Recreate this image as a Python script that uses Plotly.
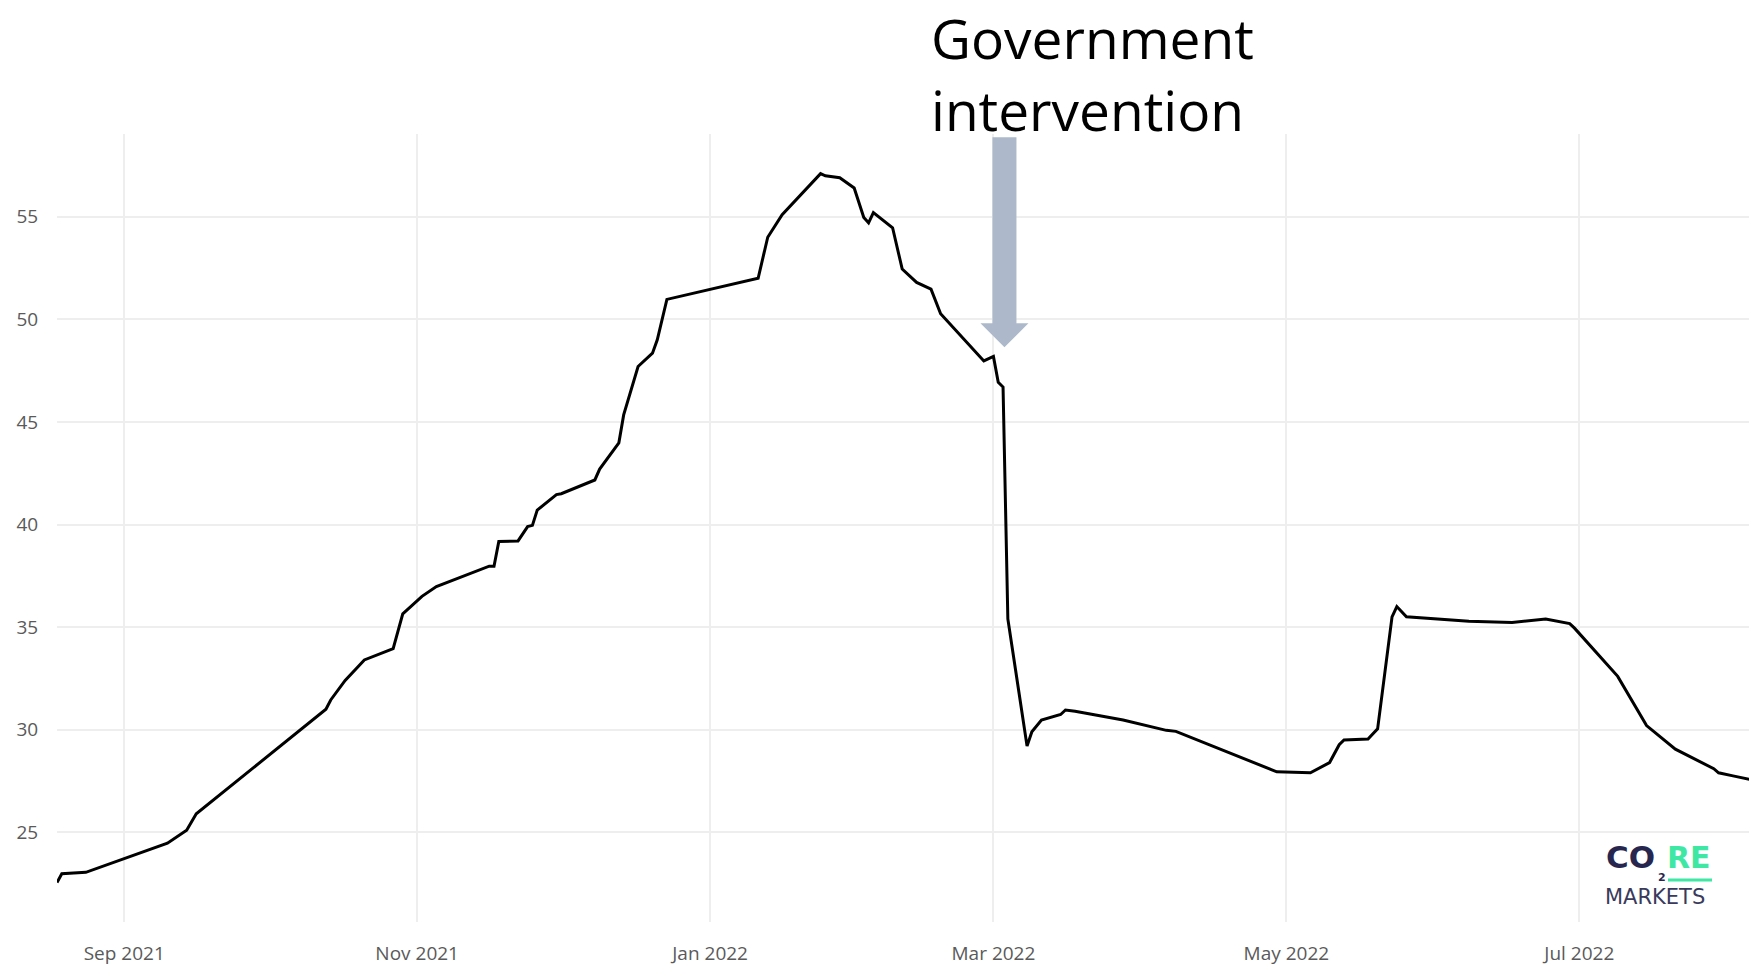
import plotly.graph_objects as go

# ---- data ----
dates = [
    "2021-08-18", "2021-08-19", "2021-08-24", "2021-09-10", "2021-09-14", "2021-09-16",
    "2021-10-13", "2021-10-14", "2021-10-17", "2021-10-21", "2021-10-27", "2021-10-29",
    "2021-11-02", "2021-11-05", "2021-11-16", "2021-11-17", "2021-11-18", "2021-11-22",
    "2021-11-24", "2021-11-25", "2021-11-26", "2021-11-30", "2021-12-01", "2021-12-08",
    "2021-12-09", "2021-12-13", "2021-12-14", "2021-12-17", "2021-12-20", "2021-12-21",
    "2021-12-23", "2022-01-11", "2022-01-13", "2022-01-16", "2022-01-24", "2022-01-25",
    "2022-01-28", "2022-01-31", "2022-02-02", "2022-02-03", "2022-02-04", "2022-02-08",
    "2022-02-10", "2022-02-13", "2022-02-16", "2022-02-18", "2022-02-27", "2022-03-01",
    "2022-03-02", "2022-03-03", "2022-03-04", "2022-03-08", "2022-03-09", "2022-03-11",
    "2022-03-15", "2022-03-16", "2022-03-18", "2022-03-28", "2022-04-06", "2022-04-08",
    "2022-04-29", "2022-05-06", "2022-05-10", "2022-05-12", "2022-05-13", "2022-05-18",
    "2022-05-20", "2022-05-23", "2022-05-24", "2022-05-26", "2022-06-08", "2022-06-17",
    "2022-06-24", "2022-06-29", "2022-06-30", "2022-07-09", "2022-07-15", "2022-07-21",
    "2022-07-29", "2022-07-30", "2022-08-02", "2022-08-07",
]
prices = [
    22.55, 22.98, 23.05, 24.47, 25.1, 25.9,
    31.0, 31.45, 32.4, 33.4, 33.95, 35.65,
    36.5, 36.98, 37.97, 37.97, 39.17, 39.2,
    39.9, 39.96, 40.7, 41.46, 41.5, 42.17,
    42.7, 43.98, 45.34, 47.7, 48.35, 49.0,
    50.97, 52.0, 54.0, 55.1, 57.1, 56.99,
    56.9, 56.4, 54.96, 54.7, 55.2, 54.46,
    52.45, 51.8, 51.47, 50.27, 47.97, 48.19,
    46.93, 46.7, 35.4, 29.2, 29.9, 30.47,
    30.74, 30.96, 30.9, 30.47, 29.97, 29.92,
    27.95, 27.9, 28.4, 29.27, 29.5, 29.55,
    30.04, 35.5, 36.0, 35.5, 35.28, 35.22,
    35.4, 35.17, 34.95, 32.6, 30.2, 29.05,
    28.1, 27.9, 27.75, 27.5,
]
y_ticks = [25, 30, 35, 40, 45, 50, 55]
annotation_lines = ["Government", "intervention"]
intervention_date = "2022-03-03 07:00"
arrow_tip_value = 48.64

# page body offsets the figure by 8px
OFF = 8
W, H = 1757, 967
ML, MR, MT, MB = 57 - OFF, OFF, 134 - OFF, H - (922 - OFF)
PW, PH = W - ML - MR, H - MT - MB


def sx(x):
    """screen x -> paper x"""
    return (x - OFF - ML) / PW


def sy(y):
    """screen y -> paper y"""
    return (H - MB - (y - OFF)) / PH


fig = go.Figure()
fig.add_trace(go.Scatter(
    x=dates, y=prices, mode="lines",
    line=dict(color="#000000", width=3),
    showlegend=False, hoverinfo="skip",
))

# arrow (pixel-sized, anchored at the intervention date)
fig.add_shape(
    type="path", xref="x", yref="y",
    xsizemode="pixel", ysizemode="pixel",
    xanchor=intervention_date, yanchor=arrow_tip_value,
    path="M 0,0 L -24,24 L -12,24 L -12,210 L 12,210 L 12,24 L 24,24 Z",
    fillcolor="#ADB9CA", line=dict(width=0), layer="above",
)

for line_text, cy in zip(annotation_lines, [37, 110]):
    fig.add_annotation(
        text=line_text,
        xref="paper", yref="paper", x=sx(929.5), y=sy(cy),
        xanchor="left", yanchor="middle", align="left", showarrow=False,
        borderpad=0,
        font=dict(family="Open Sans", size=55, color="#000000"),
    )

# logo
navy = "#27264F"
green = "#3EE8A4"
fig.add_annotation(text="<b>CO</b>", xref="paper", yref="paper", x=sx(1604), y=sy(857),
                   xanchor="left", yanchor="middle", showarrow=False,
                   font=dict(family="DejaVu Sans", size=31, color=navy))
fig.add_annotation(text="<b>RE</b>", xref="paper", yref="paper", x=sx(1665), y=sy(857),
                   xanchor="left", yanchor="middle", showarrow=False,
                   font=dict(family="DejaVu Sans", size=30, color=green))
fig.add_annotation(text="<b>2</b>", xref="paper", yref="paper", x=sx(1656), y=sy(877),
                   xanchor="left", yanchor="middle", showarrow=False,
                   font=dict(family="DejaVu Sans", size=11, color=navy))
fig.add_annotation(text="MARKETS", xref="paper", yref="paper", x=sx(1603), y=sy(897),
                   xanchor="left", yanchor="middle", showarrow=False,
                   font=dict(family="DejaVu Sans", size=21, color="#3A3A5C"))
fig.add_shape(type="line", xref="paper", yref="paper",
              x0=sx(1668), x1=sx(1712), y0=sy(880), y1=sy(880),
              line=dict(color=green, width=3))

fig.update_layout(
    width=W, height=H,
    margin=dict(l=ML, r=MR, t=MT, b=MB),
    paper_bgcolor="white", plot_bgcolor="white",
    font=dict(family="Open Sans", size=19, color="#5A5A5A"),
    xaxis=dict(
        type="date", range=[dates[0], dates[-1]],
        tick0="2021-09-01", dtick="M2", tickformat="%b %Y",
        showgrid=True, gridcolor="#EEEEEE", gridwidth=1.5,
        zeroline=False, showline=False,
        ticks="outside", ticklen=14, tickcolor="rgba(0,0,0,0)",
    ),
    yaxis=dict(
        range=[20.63, 59.03], tickvals=y_ticks,
        showgrid=True, gridcolor="#EEEEEE", gridwidth=1.5,
        zeroline=False, showline=False,
        ticks="outside", ticklen=14, tickcolor="rgba(0,0,0,0)",
    ),
)

fig.write_html("out.html")
